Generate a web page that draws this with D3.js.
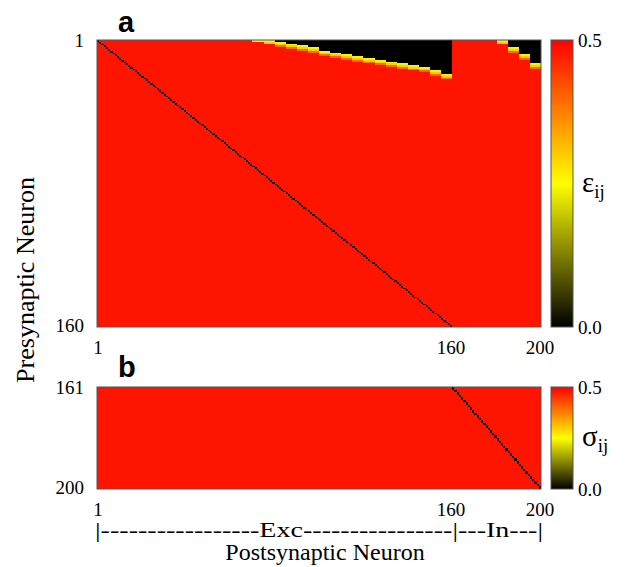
<!DOCTYPE html>
<meta charset="utf-8">
<script src="https://d3js.org/d3.v7.min.js"></script>
<style>
  body { margin: 0; background: #fff; }
  svg text { font-family: "Liberation Serif", "Times New Roman", serif; fill: #000; }
</style>
<div id="my_dataviz"></div>
<script>

// neuron counts
var nExc = 160, nAll = 200;

// rows of black (eps = 0) from the top of panel a, one value per 5 postsynaptic columns
var blackRows = [0,0,0,0,0, 0,0,0,0,0, 0,0,0,0,0,
                 0,1,2,3,4, 6,7,8,9,10, 11,12,13,14,15, 17,19,
                 0,0,0,0,0, 4,8,13];
// rows of yellow/orange fringe right below the black, same grouping
var fringeRows = [0,0,0,0,0, 0,0,0,0,0, 0,0,0,0,1,
                  2,3,3,3,3, 3,3,3,3,3, 3,3,3,3,3, 3,3,
                  0,0,0,0,2, 3,3,3];
// fringe values going down, then the bulk value
var fringe = [0.24, 0.3, 0.4];
var bulkEps = 0.48, bulkSig = 0.48;

var xTicks = [1, 160, 200];
var yTicksA = [1, 160];
var yTicksB = [161, 200];
var barTicks = [0.0, 0.5];

var svg = d3.select("#my_dataviz").append("svg")
  .attr("width", 639).attr("height", 567);

var x = d3.scaleLinear().domain([0.5, nAll + 0.5]).range([97, 541]);
var yA = d3.scaleLinear().domain([0.5, nExc + 0.5]).range([40, 327]);
var yB = d3.scaleLinear().domain([nExc + 0.5, nAll + 0.5]).range([387, 489]);

var color = d3.scaleLinear()
  .domain([0, 0.25, 0.5])
  .range(["#000000", "#ffff00", "#ff0000"])
  .clamp(true);

// build column runs (merge equal vertical cells)
function runsFor(rowsFrom, rowsTo, valueAt) {
  var out = [];
  for (var j = 1; j <= nAll; j++) {
    var start = rowsFrom, v = valueAt(rowsFrom, j);
    for (var i = rowsFrom + 1; i <= rowsTo + 1; i++) {
      var w = i <= rowsTo ? valueAt(i, j) : null;
      if (w !== v) {
        out.push({col: j, r0: start, r1: i - 1, v: v});
        start = i; v = w;
      }
    }
  }
  return out;
}

function epsValue(i, j) {
  if (i === j) return 0;
  var k = Math.floor((j - 1) / 5);
  var d = blackRows[k], f = fringeRows[k];
  if (i <= d) return 0;
  if (i - d <= f) return fringe[Math.min(i - d - 1, fringe.length - 1)];
  return bulkEps;
}
function sigValue(i, j) {
  if (i === j) return 0;
  return bulkSig;
}

function drawPanel(y, rows, label, labelY, sym, ticksY) {
  var g = svg.append("g");
  g.selectAll("rect.cell")
    .data(rows)
    .enter().append("rect")
      .attr("class", "cell")
      .attr("x", function(d) { return x(d.col - 0.5); })
      .attr("y", function(d) { return y(d.r0 - 0.5); })
      .attr("width", function(d) { return x(d.col + 0.5) - x(d.col - 0.5) + 0.3; })
      .attr("height", function(d) { return y(d.r1 + 0.5) - y(d.r0 - 0.5); })
      .style("fill", function(d) { return color(d.v); })
      .attr("shape-rendering", "crispEdges");

  var y0 = y.range()[0], y1 = y.range()[1];
  g.append("rect")
    .attr("x", x.range()[0]).attr("y", y0)
    .attr("width", x.range()[1] - x.range()[0]).attr("height", y1 - y0)
    .style("fill", "none").style("stroke", "#555").style("stroke-width", 1);

  // left ticks
  g.selectAll("text.yt").data(ticksY).enter().append("text")
    .attr("x", 84).attr("y", function(d) { return y(d) + 6; })
    .attr("text-anchor", "end").style("font-size", "19px")
    .text(function(d) { return d; });

  // bottom ticks
  g.selectAll("text.xt").data(xTicks).enter().append("text")
    .attr("x", function(d) { return x(d); }).attr("y", y1 + 27)
    .attr("text-anchor", "middle").style("font-size", "19px")
    .text(function(d) { return d; });

  // panel letter
  g.append("text").attr("x", 118).attr("y", labelY)
    .style("font-family", "Liberation Sans, Arial, sans-serif")
    .style("font-weight", "bold").style("font-size", "29px")
    .text(label);

  // colour bar
  var cb = d3.scaleLinear().domain([0, 0.5]).range([y1, y0]);
  var gid = "grad" + label;
  var grad = svg.append("defs").append("linearGradient").attr("id", gid)
    .attr("x1", 0).attr("y1", 1).attr("x2", 0).attr("y2", 0);
  grad.selectAll("stop").data(color.domain()).enter().append("stop")
    .attr("offset", function(d) { return d / 0.5; })
    .attr("stop-color", function(d) { return color(d); });
  g.append("rect").attr("x", 551).attr("y", y0).attr("width", 22).attr("height", y1 - y0)
    .style("fill", "url(#" + gid + ")").style("stroke", "#555").style("stroke-width", 1);
  g.selectAll("text.ct").data(barTicks).enter().append("text")
    .attr("x", 578).attr("y", function(d) { return cb(d) + 7; })
    .style("font-size", "19px")
    .text(function(d) { return d.toFixed(1); });
  var s = g.append("text").attr("x", 582).attr("y", (y0 + y1) / 2 + 8)
    .style("font-size", "29px");
  s.append("tspan").text(sym);
  s.append("tspan").attr("dy", 6).style("font-size", "19px").text("ij");
}

drawPanel(yA, runsFor(1, nExc, epsValue), "a", 32, "\u03b5", yTicksA);
drawPanel(yB, runsFor(nExc + 1, nAll, sigValue), "b", 377, "\u03c3", yTicksB);

// population bracket under panel b
svg.append("text")
  .attr("x", x(0.5) - 2).attr("y", 537)
  .attr("textLength", x(nAll + 0.5) - x(0.5) + 4).attr("lengthAdjust", "spacingAndGlyphs")
  .style("font-size", "20px")
  .text("|-----------------Exc----------------|---In---|");

svg.append("text")
  .attr("x", 325).attr("y", 560).attr("text-anchor", "middle")
  .style("font-size", "24px")
  .text("Postsynaptic Neuron");

svg.append("text")
  .attr("transform", "translate(34,280) rotate(-90)")
  .attr("text-anchor", "middle")
  .style("font-size", "26px")
  .text("Presynaptic Neuron");

</script>
